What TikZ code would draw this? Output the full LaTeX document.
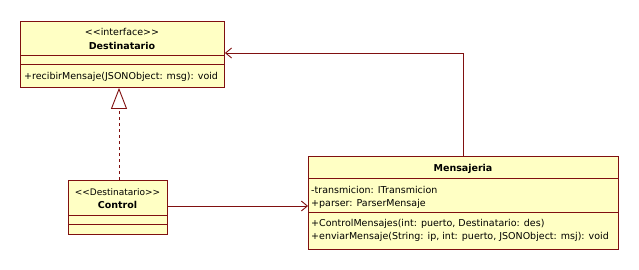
\documentclass[tikz,border=0pt]{standalone}
\usepackage{fontspec}
\setmainfont{DejaVu Sans}[Ligatures=TeXOff]
\usetikzlibrary{arrows.meta}
\definecolor{umlline}{RGB}{128,16,16}
\definecolor{umlfill}{RGB}{255,255,196}
\begin{document}
\begin{tikzpicture}[x=1pt,y=-1pt,
  classbox/.style={draw=umlline,fill=umlfill,line width=0.9pt,inner sep=0pt,anchor=north west},
  sep/.style={draw=umlline,line width=0.9pt},
  conn/.style={draw=umlline,line width=0.9pt},
  txt/.style={font=\fontsize{9.5}{11}\selectfont,inner sep=0pt,anchor=base},
  ltxt/.style={txt,anchor=base west},
  btxt/.style={txt,font=\fontsize{9.5}{11}\selectfont\bfseries},
  realize/.style={conn,dash pattern=on 3pt off 3pt,
    -{Triangle[open,length=21pt,width=16pt,fill=white]}},
  assoc/.style={conn,-{Straight Barb[length=6pt,width=10pt]}}]
\useasboundingbox (0,0) rectangle (639,270);

% interface Destinatario
\node[classbox,minimum width=204pt,minimum height=66pt] (dest) at (20,21) {};
\draw[sep] (20,55) -- (224,55);
\draw[sep] (20,64) -- (224,64);
\node[txt] (destst) at (122,36) {<<interface>>};
\node[btxt] (destnm) at (122,49) {Destinatario};
\node[ltxt] (destop) at (24,79) {+recibirMensaje(JSONObject: msg): void};

% class Control
\node[classbox,minimum width=99pt,minimum height=54pt] (ctrl) at (68,180) {};
\draw[sep] (68,215) -- (167,215);
\draw[sep] (68,224) -- (167,224);
\node[txt,font=\fontsize{9}{11}\selectfont] (ctrlst) at (117.5,195) {<<Destinatario>>};
\node[btxt] (ctrlnm) at (117.5,208) {Control};

% class Mensajeria
\node[classbox,minimum width=310pt,minimum height=93pt] (mens) at (308,156) {};
\draw[sep] (308,178) -- (618,178);
\draw[sep] (308,212) -- (618,212);
\node[btxt] (mensnm) at (463,171) {Mensajeria};
\node[ltxt] (mensa1) at (311,193) {-transmicion: ITransmicion};
\node[ltxt] (mensa2) at (311,206) {+parser: ParserMensaje};
\node[ltxt] (menso1) at (311,226) {+ControlMensajes(int: puerto, Destinatario: des)};
\node[ltxt] (menso2) at (311,239) {+enviarMensaje(String: ip, int: puerto, JSONObject: msj): void};

% connectors
\draw[realize] (ctrl.north -| 119,0) -- (dest.south -| 119,0);
\draw[assoc] (ctrl.east |- 0,206) -- (mens.west |- 0,206);
\coordinate (bend) at (463,53);
\draw[assoc] (mens.north -| bend) -- (bend) -- (dest.east |- bend);
\end{tikzpicture}
\end{document}
